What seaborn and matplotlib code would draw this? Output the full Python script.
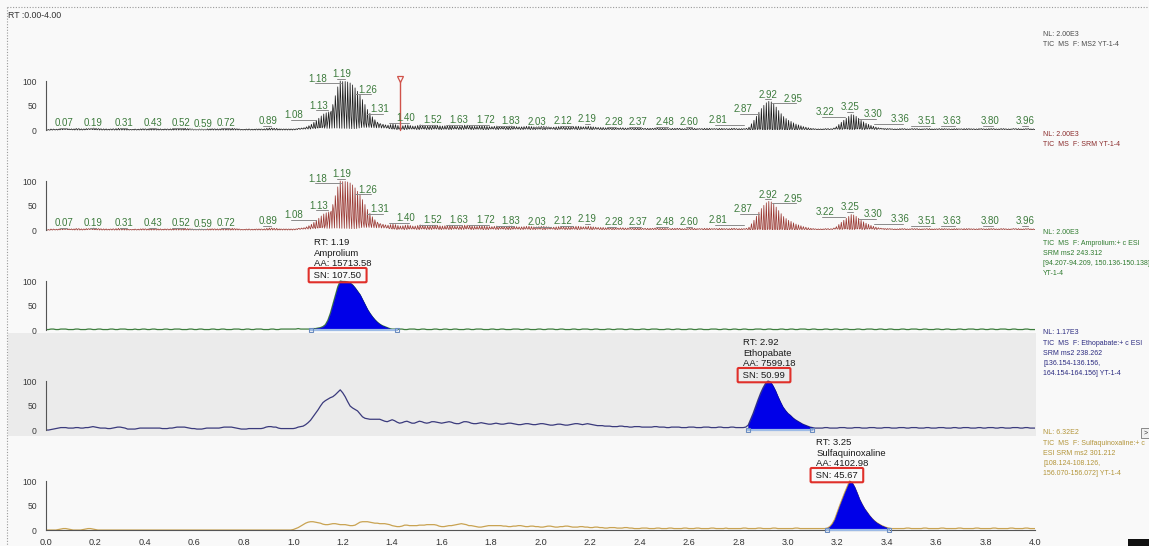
import numpy as np
import matplotlib
matplotlib.use("Agg")
import matplotlib.pyplot as plt
from matplotlib.patches import Rectangle
from matplotlib.ticker import MultipleLocator, FormatStrFormatter
import seaborn as sns

# ---------------------------------------------------------------------------
# Chromatogram data: relative abundance (%) of each SRM channel, 0.01 min grid
# ---------------------------------------------------------------------------
rt_step = 0.01

amprolium = [
    1, 1, 2, 2, 1, 1, 2, 2, 2, 1, 1, 1, 2, 2, 1, 1, 1, 2, 2, 1,
    1, 2, 2, 1, 1, 1, 2, 2, 1, 1, 2, 2, 2, 1, 1, 1, 2, 1, 1, 2,
    2, 1, 1, 2, 2, 1, 1, 1, 2, 2, 1, 1, 2, 2, 2, 1, 1, 1, 2, 2,
    1, 1, 2, 2, 1, 1, 1, 2, 2, 1, 1, 2, 2, 1, 1, 1, 2, 2, 2, 1,
    1, 2, 2, 1, 1, 2, 2, 2, 1, 1, 1, 2, 2, 1, 1, 2, 2, 2, 2, 2,
    2, 2, 3, 2, 2, 2, 2, 2, 3, 3, 4, 5, 7, 11, 20, 34, 52, 70, 88, 100,
    99, 99, 98, 96, 92, 86, 79, 72, 62, 52, 42, 34, 27, 21, 16, 12, 9, 7, 5, 3,
    2, 2, 1, 2, 2, 1, 1, 2, 2, 2, 1, 1, 2, 2, 1, 1, 1, 2, 2, 1,
    1, 2, 2, 1, 1, 2, 2, 1, 1, 1, 2, 2, 1, 1, 2, 2, 2, 1, 1, 1,
    2, 2, 1, 1, 2, 2, 1, 1, 1, 2, 2, 2, 1, 1, 2, 2, 1, 1, 1, 2,
    2, 1, 1, 2, 2, 2, 1, 1, 2, 2, 1, 1, 1, 2, 2, 1, 1, 2, 2, 2,
    1, 1, 2, 2, 1, 1, 1, 2, 2, 1, 1, 2, 2, 2, 1, 1, 2, 2, 1, 1,
    1, 2, 2, 1, 1, 2, 2, 2, 1, 1, 1, 2, 2, 1, 1, 2, 2, 1, 1, 1,
    2, 2, 1, 1, 2, 2, 1, 1, 1, 2, 2, 2, 1, 1, 2, 2, 1, 1, 2, 2,
    1, 1, 2, 2, 1, 1, 1, 2, 2, 2, 1, 1, 2, 2, 1, 1, 1, 2, 2, 1,
    1, 2, 2, 1, 1, 2, 2, 2, 1, 1, 2, 2, 1, 1, 1, 2, 2, 1, 1, 2,
    2, 1, 1, 2, 2, 1, 1, 1, 2, 2, 1, 1, 2, 2, 2, 1, 1, 2, 2, 1,
    1, 2, 2, 1, 1, 1, 2, 2, 1, 1, 2, 2, 2, 1, 1, 2, 2, 1, 1, 1,
    2, 2, 1, 1, 2, 2, 1, 1, 1, 2, 2, 1, 1, 2, 2, 2, 1, 1, 2, 2,
    1, 1, 2, 2, 1, 1, 2, 2, 2, 1, 1, 2, 2, 1, 1, 1, 2, 2, 1, 1,
    1,
]

ethopabate = [
    0, 0, 1, 2, 3, 4, 5, 5, 5, 4, 4, 4, 5, 5, 4, 4, 5, 5, 6, 7,
    6, 5, 4, 4, 4, 3, 3, 4, 5, 6, 6, 5, 4, 2, 2, 2, 2, 3, 4, 4,
    4, 4, 4, 4, 4, 4, 4, 3, 3, 3, 4, 4, 5, 6, 6, 6, 6, 5, 4, 3,
    3, 2, 2, 2, 3, 4, 4, 4, 4, 4, 4, 5, 6, 6, 6, 6, 5, 4, 3, 2,
    2, 2, 3, 3, 3, 3, 3, 3, 4, 6, 7, 7, 6, 6, 4, 3, 3, 3, 3, 3,
    3, 4, 6, 7, 8, 11, 15, 20, 27, 34, 41, 49, 56, 60, 63, 66, 68, 72, 77, 82,
    76, 68, 58, 49, 45, 42, 39, 33, 27, 24, 23, 22, 22, 22, 22, 22, 20, 18, 17, 19,
    21, 19, 16, 14, 15, 17, 18, 16, 14, 14, 16, 18, 17, 15, 14, 15, 17, 17, 16, 15,
    14, 15, 16, 17, 16, 14, 13, 13, 15, 17, 17, 16, 14, 13, 13, 14, 15, 14, 13, 12,
    12, 13, 14, 13, 12, 12, 13, 14, 14, 13, 12, 11, 11, 12, 13, 13, 12, 11, 11, 12,
    13, 13, 12, 11, 10, 10, 11, 12, 12, 11, 10, 10, 11, 12, 13, 13, 12, 11, 12, 13,
    12, 11, 10, 9, 9, 9, 8, 8, 8, 7, 7, 7, 8, 8, 7, 7, 6, 6, 7, 7,
    7, 6, 6, 6, 6, 6, 7, 7, 6, 6, 6, 5, 5, 6, 6, 6, 6, 5, 5, 5,
    6, 6, 6, 5, 5, 5, 6, 6, 6, 5, 5, 5, 6, 6, 5, 5, 5, 6, 6, 5,
    5, 5, 5, 6, 10, 22, 34, 48, 62, 75, 86, 95, 100, 98, 90, 80, 68, 57, 47, 40,
    34, 30, 25, 21, 18, 15, 12, 10, 8, 6, 5, 4, 4, 4, 4, 5, 5, 4, 4, 4,
    4, 5, 5, 5, 4, 4, 4, 5, 5, 5, 4, 4, 4, 5, 5, 5, 4, 4, 4, 5,
    5, 5, 4, 4, 4, 5, 5, 5, 4, 4, 5, 5, 5, 4, 4, 4, 5, 5, 4, 4,
    4, 5, 5, 5, 4, 4, 4, 5, 5, 4, 4, 5, 5, 5, 4, 4, 4, 5, 5, 4,
    4, 5, 5, 5, 4, 4, 5, 5, 4, 4, 4, 5, 5, 5, 4, 4, 5, 5, 4, 4,
    4,
]

sulfaquinoxaline = [
    0, 0, 0, 0, 0, 1, 2, 3, 3, 2, 1, 0, 0, 0, 0, 1, 2, 3, 3, 2,
    1, 0, 0, 0, 0, 0, 0, 0, 0, 0, 0, 0, 0, 0, 0, 0, 0, 0, 0, 0,
    0, 0, 0, 0, 0, 0, 0, 0, 0, 0, 0, 0, 0, 0, 0, 0, 0, 0, 0, 0,
    0, 0, 0, 0, 0, 0, 0, 0, 0, 0, 0, 0, 0, 0, 0, 0, 0, 0, 0, 0,
    0, 0, 0, 0, 0, 0, 0, 0, 0, 0, 0, 0, 0, 0, 0, 0, 0, 0, 0, 0,
    1, 3, 5, 8, 11, 14, 16, 17, 17, 16, 15, 14, 12, 11, 11, 12, 13, 13, 12, 11,
    11, 11, 10, 9, 9, 10, 13, 16, 17, 17, 17, 16, 15, 14, 14, 13, 13, 13, 12, 11,
    9, 8, 7, 7, 8, 10, 10, 9, 9, 9, 9, 10, 10, 10, 11, 11, 11, 11, 10, 8,
    7, 7, 8, 9, 9, 10, 11, 12, 13, 12, 11, 9, 9, 8, 7, 6, 6, 7, 8, 9,
    9, 9, 9, 9, 9, 8, 8, 7, 7, 8, 8, 9, 9, 8, 7, 7, 8, 8, 7, 7,
    6, 6, 7, 8, 8, 7, 6, 6, 7, 7, 8, 8, 7, 6, 6, 6, 7, 7, 6, 6,
    5, 5, 6, 6, 5, 5, 4, 4, 5, 5, 5, 4, 4, 4, 5, 5, 4, 4, 3, 3,
    3, 4, 4, 4, 3, 3, 3, 4, 4, 3, 3, 3, 4, 4, 3, 3, 3, 3, 4, 4,
    3, 3, 3, 4, 4, 3, 3, 3, 3, 4, 4, 3, 3, 3, 3, 4, 3, 3, 3, 3,
    3, 3, 4, 4, 3, 3, 3, 3, 4, 4, 3, 3, 3, 3, 4, 4, 3, 3, 3, 3,
    3, 3, 3, 4, 4, 3, 3, 3, 3, 3, 3, 3, 3, 3, 3, 3, 4, 7, 13, 22,
    36, 50, 63, 76, 88, 100, 97, 88, 76, 63, 53, 44, 37, 30, 24, 19, 15, 12, 9, 7,
    5, 4, 3, 3, 3, 3, 3, 3, 4, 4, 3, 3, 3, 3, 3, 4, 4, 3, 3, 3,
    3, 3, 4, 4, 3, 3, 3, 3, 3, 4, 4, 3, 3, 3, 3, 3, 4, 4, 3, 3,
    3, 3, 3, 4, 4, 3, 3, 3, 3, 3, 4, 4, 3, 3, 3, 3, 4, 4, 3, 3,
    3,
]

# normalisation levels (NL) of the traces
nl_tic = 2.00e3
nl_amprolium = 2.00e3
nl_ethopabate = 1.17e3
nl_sulfaquinoxaline = 6.32e2

# retention times labelled on the two TIC traces
tic_peak_rts = [0.07, 0.19, 0.31, 0.43, 0.52, 0.59, 0.72, 0.89, 1.08, 1.13,
                1.18, 1.19, 1.26, 1.31, 1.40, 1.52, 1.63, 1.72, 1.83, 2.03,
                2.12, 2.19, 2.28, 2.37, 2.48, 2.60, 2.81, 2.87, 2.92, 2.95,
                3.22, 3.25, 3.30, 3.36, 3.51, 3.63, 3.80, 3.96]

# identified peaks
peak_names = ["Amprolium", "Ethopabate", "Sulfaquinoxaline"]
peak_rts = [1.19, 2.92, 3.25]
peak_areas = [15713.58, 7599.18, 4102.98]
peak_sns = [107.50, 50.99, 45.67]
peak_windows = [(1.07, 1.42), (2.84, 3.10), (3.16, 3.41)]
cursor_rt = 1.43

# trace headers
header_lines = [
    ["NL: 2.00E3", "TIC  MS  F: MS2 YT-1-4"],
    ["NL: 2.00E3", "TIC  MS  F: SRM YT-1-4"],
    ["NL: 2.00E3", "TIC  MS  F: Amprolium:+ c ESI", "SRM ms2 243.312",
     "[94.207-94.209, 150.136-150.138]", "YT-1-4"],
    ["NL: 1.17E3", "TIC  MS  F: Ethopabate:+ c ESI", "SRM ms2 238.262",
     "[136.154-136.156,", "164.154-164.156] YT-1-4"],
    ["NL: 6.32E2", "TIC  MS  F: Sulfaquinoxaline:+ c", "ESI SRM ms2 301.212",
     "[108.124-108.126,", "156.070-156.072] YT-1-4"],
]

assert len(amprolium) == len(ethopabate) == len(sulfaquinoxaline) == 401

rt = np.round(np.arange(len(amprolium)) * rt_step, 2)
amp = np.asarray(amprolium, float)
eth = np.asarray(ethopabate, float)
sul = np.asarray(sulfaquinoxaline, float)

# The TIC is built from the SRM scans: each acquisition cycle measures the
# three transitions one after the other, so the trace alternates between them.
scan_offsets = np.array([0.0, 1 / 3, 2 / 3]) * rt_step
tic_t = (rt[:, None] + scan_offsets[None, :]).ravel()
tic_v = (np.column_stack([amp * nl_amprolium,
                          eth * nl_ethopabate,
                          sul * nl_sulfaquinoxaline]) / nl_tic).ravel()

# ---------------------------------------------------------------------------
# Layout / style
# ---------------------------------------------------------------------------
sns.set_style("white")
plt.rcParams["font.family"] = ["Liberation Sans", "DejaVu Sans"]

W, H = 1149, 546
fig = plt.figure(figsize=(W / 100, H / 100), dpi=100, facecolor="#f9f9f9")


def fx(px):
    return px / W


def fy(py):
    return 1 - py / H


# shaded band behind the selected (Ethopabate) trace
fig.patches.append(Rectangle((fx(8), fy(436)), fx(1036) - fx(8), fy(333) - fy(436),
                             transform=fig.transFigure, fc="#ebebeb", ec="none", zorder=-5))
# dotted frame of the chromatogram view
fig.add_artist(plt.Line2D([fx(7), fx(1149)], [fy(7), fy(7)], transform=fig.transFigure,
                          color="#9a9a9a", lw=0.8, ls=(0, (1, 1.5))))
fig.add_artist(plt.Line2D([fx(7), fx(7)], [fy(7), fy(546)], transform=fig.transFigure,
                          color="#9a9a9a", lw=0.8, ls=(0, (1, 1.5))))
fig.text(fx(8), fy(15), "RT :0.00-4.00", fontsize=6.3, color="#333333", va="center")

trace_colors = ["#1e1e1e", "#9b3a34", "#3d7d3d", "#3a3a7c", "#c9a352"]
header_colors = ["#4a4a4a", "#8a2b2b", "#2e7a2e", "#2b2b80", "#b3953a"]
label_green = "#3c7a3c"

X0, X1 = 46, 1035
axes = []
for k in range(5):
    zero = 130 + 100 * k
    ax = fig.add_axes([fx(X0), fy(zero + 2), fx(X1) - fx(X0), 100 / H])
    ax.set_zorder(1)
    ax.patch.set_visible(False)
    ax.set_xlim(0, 4)
    ax.set_ylim(-4, 200)
    for s in ("top", "right"):
        ax.spines[s].set_visible(False)
    ax.spines["left"].set_bounds(0, 100)
    ax.spines["left"].set_color("#555555")
    ax.spines["left"].set_linewidth(0.8)
    ax.yaxis.set_minor_locator(MultipleLocator(10))
    ax.set_yticks([0, 50, 100])
    ax.tick_params(axis="y", which="major", length=6, width=0.8, color="#555555",
                   labelsize=6.2, labelcolor="#3a3a3a", pad=0.5)
    ax.tick_params(axis="y", which="minor", length=3, width=0.6, color="#555555")
    if k < 4:
        ax.spines["bottom"].set_visible(False)
        ax.set_xticks([])
    else:
        ax.spines["bottom"].set_position(("data", 0))
        ax.spines["bottom"].set_bounds(0, 4)
        ax.spines["bottom"].set_color("#555555")
        ax.spines["bottom"].set_linewidth(0.8)
        ax.xaxis.set_major_locator(MultipleLocator(0.2))
        ax.xaxis.set_minor_locator(MultipleLocator(0.1))
        ax.xaxis.set_major_formatter(FormatStrFormatter("%.1f"))
        ax.tick_params(axis="x", which="major", length=4, width=0.8, color="#555555",
                       labelsize=6.6, labelcolor="#333333", pad=2)
        ax.tick_params(axis="x", which="minor", length=2.5, width=0.6, color="#555555")
    axes.append(ax)

# ---- TIC traces (MS2 and SRM) ----
for k in (0, 1):
    ax = axes[k]
    sns.lineplot(x=tic_t, y=tic_v, ax=ax, color=trace_colors[k], lw=0.55,
                 estimator=None, sort=False)

# label positions (time, height) above the TIC traces
tic_label_xy = [
    (0.073, 14), (0.19, 14), (0.315, 14), (0.432, 14), (0.545, 14), (0.634, 12),
    (0.727, 14), (0.897, 18), (1.002, 30), (1.103, 50), (1.099, 104), (1.196, 114),
    (1.301, 82), (1.35, 42), (1.455, 24), (1.564, 20), (1.669, 20), (1.778, 20),
    (1.879, 18), (1.984, 16), (2.089, 18), (2.19, 22), (2.295, 16), (2.396, 16),
    (2.505, 16), (2.602, 16), (2.719, 20), (2.82, 42), (2.921, 72), (3.022, 64),
    (3.152, 36), (3.253, 46), (3.345, 32), (3.455, 22), (3.564, 18), (3.665, 18),
    (3.818, 18), (3.96, 18),
]
for k in (0, 1):
    ax = axes[k]
    for value, (lx, ly) in zip(tic_peak_rts, tic_label_xy):
        ax.text(lx, ly, f"{value:.2f}", ha="center", va="center", fontsize=7,
                color=label_green, clip_on=False)
        a, b = min(lx, value) - 0.012, max(lx, value) + 0.012
        ax.plot([a, b], [ly - 9, ly - 9], color="#8a8a8a", lw=0.7)

# cursor marker on the top trace
axes[0].plot([cursor_rt, cursor_rt], [0, 100], color="#d0524a", lw=1.0)
axes[0].plot([cursor_rt], [104], marker="v", ms=5, mfc="none", mec="#d0524a", mew=0.9)

# ---- SRM channel traces with integrated peaks ----
channels = [amp, eth, sul]
text_offsets = [0.105, 0.10, 0.135]
for i, (vals, name, prt, area, sn, (t0, t1)) in enumerate(
        zip(channels, peak_names, peak_rts, peak_areas, peak_sns, peak_windows)):
    ax = axes[2 + i]
    sns.lineplot(x=rt, y=vals, ax=ax, color=trace_colors[2 + i], lw=0.9,
                 estimator=None, sort=False)
    m = (rt >= t0 - 1e-9) & (rt <= t1 + 1e-9)
    base = 1.0
    ax.fill_between(rt[m], base, vals[m], color="#0000e8", lw=0.4, ec="#0000b0", zorder=3)
    ax.plot([t0, t1], [base, base], color="#9dbbe6", lw=1.6, zorder=4)
    ax.plot([t0, t1], [base, base], ls="none", marker="s", ms=3.2, mfc="none",
            mec="#6b8cbf", mew=0.8, zorder=5)
    tx = prt - text_offsets[i]
    for y, s in zip([178, 156, 136], [f"RT: {prt:.2f}", name, f"AA: {area:.2f}"]):
        ax.text(tx, y, s, ha="left", va="center", fontsize=6.8, color="#1a1a1a",
                clip_on=False)
    ax.text(tx - 0.012, 112, f" SN: {sn:.2f} ", ha="left", va="center", fontsize=6.8,
            color="#1a1a1a", clip_on=False, zorder=6,
            bbox=dict(boxstyle="round,pad=0.28,rounding_size=0.12", fc="none",
                      ec="#e0302a", lw=1.5))

for ax in axes:
    ax.set_xlabel("")
    ax.set_ylabel("")

# ---- trace headers on the right ----
header_tops = [34, 134, 233, 333, 433]
for k, lines in enumerate(header_lines):
    for j, s in enumerate(lines):
        fig.text(fx(1043), fy(header_tops[k] + 10.2 * j), s, fontsize=5.0,
                 color=header_colors[k], va="center", ha="left")

# small window controls at the right edge
fig.patches.append(Rectangle((fx(1141), fy(438)), fx(8), 10 / H, transform=fig.transFigure,
                             fc="#f0f0f0", ec="#777777", lw=0.6))
fig.text(fx(1144), fy(433), ">", fontsize=5, color="#333333", va="center")
fig.patches.append(Rectangle((fx(1128), fy(546)), fx(21), 7 / H, transform=fig.transFigure,
                             fc="#111111", ec="none"))

fig.savefig("out.png", dpi=100, facecolor=fig.get_facecolor())
